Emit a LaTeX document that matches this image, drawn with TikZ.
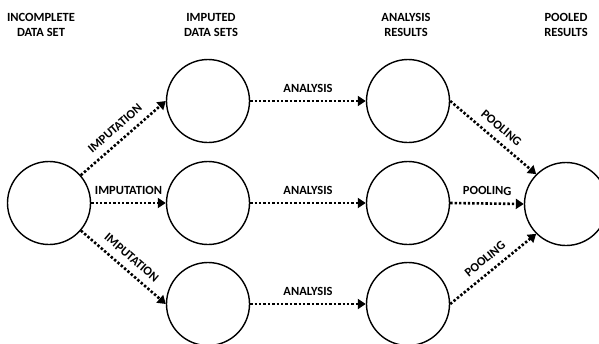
\documentclass[tikz,border=0pt]{standalone}
\usepackage{fontspec}
\setmainfont{Carlito}
\usetikzlibrary{arrows.meta, positioning, calc}
\tikzset{
    state/.style = {circle, draw, line width=1.4pt, minimum size=83pt, inner sep=0pt},
    flow/.style = {line width=2.6pt, dash pattern=on 2.4pt off 2.0pt,
        -{Triangle[length=8pt,width=10pt]}},
    title/.style = {align=center, font=\bfseries\fontsize{12.5}{15}\selectfont},
    lab/.style = {font=\bfseries\fontsize{12.5}{14}\selectfont, above=4pt, sloped, midway},
}
\begin{document}
\begin{tikzpicture}[x=1pt, y=-1pt]
\clip (0,0) rectangle (599,343);
\useasboundingbox (0,0) rectangle (599,343);

% headings
\node[title] (tD) at (41,24.5) {INCOMPLETE\\DATA SET};
\node[title] (tI) at (211,24.5) {IMPUTED\\DATA SETS};
\node[title] (tR) at (406,24.5) {ANALYSIS\\RESULTS};
\node[title] (tP) at (566,24.5) {POOLED\\RESULTS};

% circles
\node[state] (D) at (49,203) {};
\node[state] (I1) at (208,101) {};
\node[state] (I2) at (208,203) {};
\node[state] (I3) at (208,304) {};
\node[state] (R1) at (408,101) {};
\node[state] (R2) at (408,203) {};
\node[state] (R3) at (408,304) {};
\node[state] (P) at (566,204) {};

% imputation
\draw[flow] (D) -- node[lab] {IMPUTATION} (I1.west);
\draw[flow] (D.east) -- node[lab] {IMPUTATION} (I2.west);
\draw[flow] (D) -- node[lab] {IMPUTATION} (I3.west);

% analysis
\draw[flow] (I1.east) -- node[lab] {ANALYSIS} (R1.west);
\draw[flow] (I2.east) -- node[lab] {ANALYSIS} (R2.west);
\draw[flow] (I3.east) -- node[lab] {ANALYSIS} (R3.west);

% pooling
\draw[flow] (R1.east) -- node[lab] {POOLING} (P.north west);
\draw[flow] (R2.east) -- node[lab] {POOLING} (P.west);
\draw[flow] (R3.east) -- node[lab] {POOLING} (P.south west);
\end{tikzpicture}
\end{document}
